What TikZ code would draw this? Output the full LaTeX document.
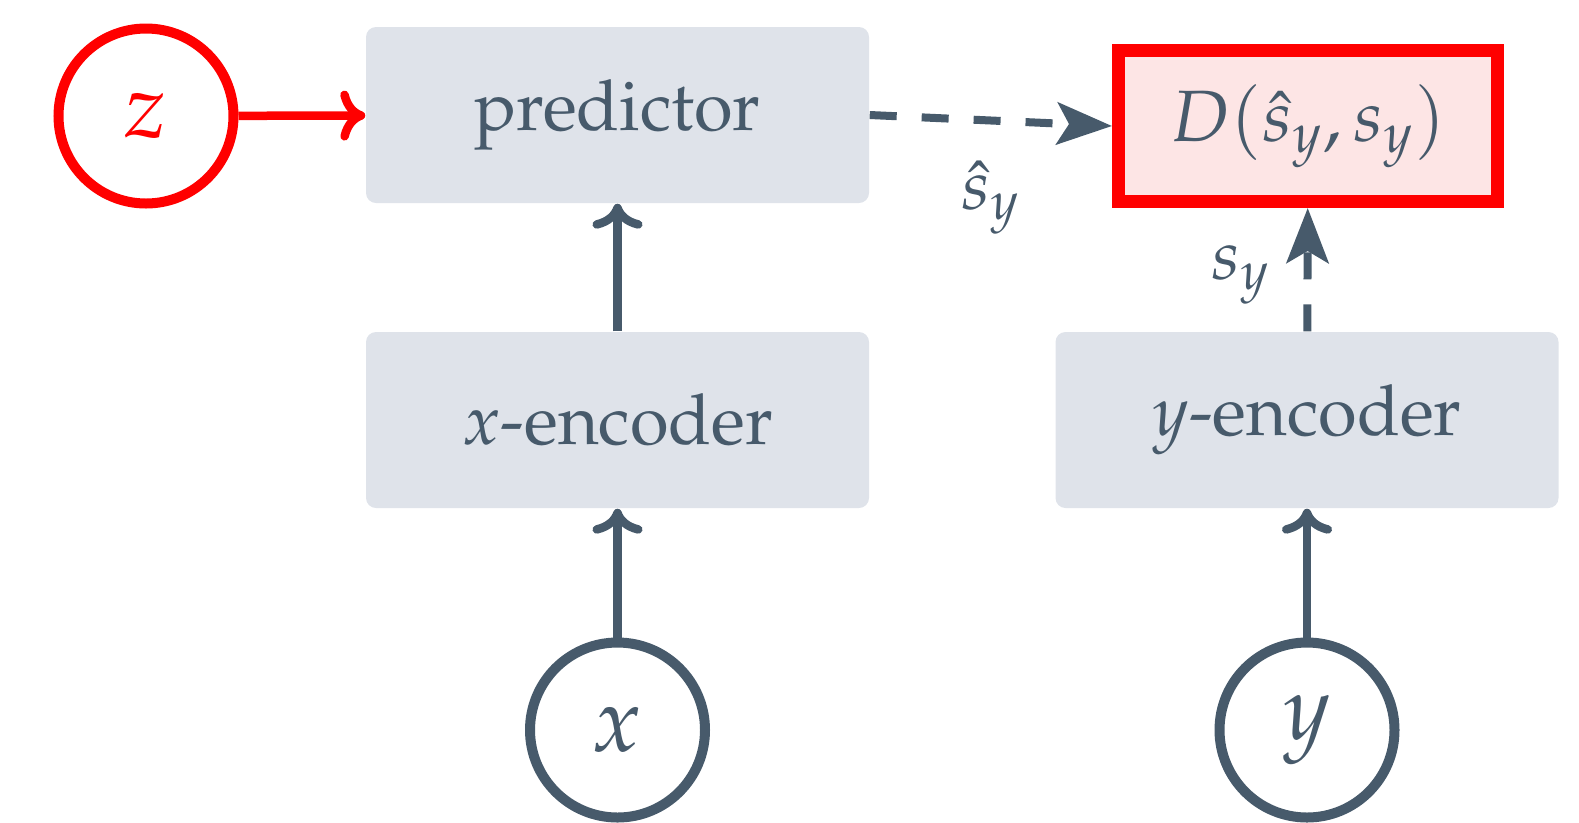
\documentclass[tikz,border=0pt]{standalone}
\usepackage[T1]{fontenc}
\usepackage{mathpazo}
\usepackage{amsmath}
\usepackage{xcolor}
\usepackage{tikz}
\usetikzlibrary{arrows.meta, positioning, calc}
\definecolor{inkgray}{HTML}{475A6B}
\definecolor{boxgray}{HTML}{DFE3EA}
\definecolor{losspink}{HTML}{FDE5E5}
\newcommand{\latentcolor}{red}

\begin{document}
\begin{tikzpicture}[font=\fontsize{20}{24}\selectfont, color=inkgray]
	\tikzstyle{blockc}=[rectangle, rounded corners=0.1cm, fill=boxgray, minimum width=5.03cm, minimum height=1.76cm, inner sep=0pt, text=inkgray]
	\tikzstyle{varc}=[circle, draw=inkgray, line width=0.1cm, fill=white, minimum size=1.75cm, inner sep=0pt, text=inkgray, font=\fontsize{26}{30}\selectfont]
	\tikzstyle{solidarr}=[line width=0.085cm, -{Computer Modern Rightarrow[length=0.25cm, width=0.5cm, round]}]
	\tikzstyle{dasharr}=[line width=0.08cm, dash pattern=on 0.27cm off 0.25cm, -{Stealth[length=0.55cm, width=0.42cm, inset=0.12cm]}]
	\useasboundingbox (0,0) rectangle (15.79,-8.22);
	% boxes
	\node (pred) at (6.175,-1.15) [blockc]{predictor};
	\node (xenc) at (6.175,-4.20) [blockc]{$x$-encoder};
	\node (yenc) at (13.07,-4.20) [blockc]{$y$-encoder};
	\node (loss) at (13.08,-1.26) [rectangle, draw=red, line width=0.13cm, fill=losspink, minimum width=3.79cm, minimum height=1.51cm, inner sep=0pt, text=inkgray, font=\fontsize{20.7}{24}\selectfont]{$D(\hat{s}_y, s_y)$};
	% variables
	\node (zvar) at (1.46,-1.16) [varc, draw=\latentcolor, text=\latentcolor]{$z$};
	\node (xvar) at (6.175,-7.30) [varc]{$x$};
	\node (yvar) at (13.07,-7.30) [varc]{$y$};
	% arrows
	\draw [solidarr, \latentcolor] (zvar) -- (pred);
	\draw [solidarr] (xenc) -- (pred);
	\draw [solidarr] (xvar) -- (xenc);
	\draw [solidarr] (yvar) -- (yenc);
	\draw [dasharr] (pred.east) -- (loss.west);
	\draw [dasharr] (yenc) -- (loss);
	\node (shat) at (9.91,-1.98) {$\hat{s}_y$};
	\node (sy) at (12.41,-2.75) {$s_y$};
\end{tikzpicture}
\end{document}
